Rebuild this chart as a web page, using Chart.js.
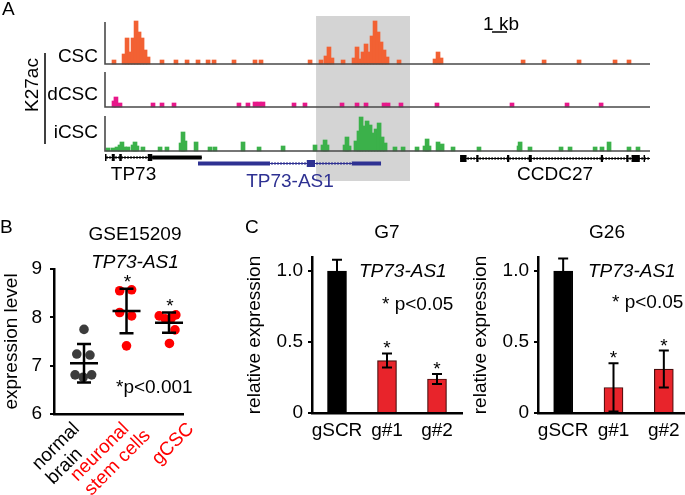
<!DOCTYPE html>
<html>
<head>
<meta charset="utf-8">
<script src="https://cdn.jsdelivr.net/npm/chart.js@4.4.1/dist/chart.umd.min.js"></script>
<style>
  html, body { margin: 0; padding: 0; background: #fff; overflow: hidden; }
  body { width: 685px; height: 495px; position: relative; }
  canvas { position: absolute; }
</style>
</head>
<body>
<canvas id="tracks" width="685" height="192" style="left:0px;top:0px"></canvas>
<canvas id="scatter" width="235" height="300" style="left:0px;top:195px"></canvas>
<canvas id="g7" width="230" height="300" style="left:235px;top:195px"></canvas>
<canvas id="g26" width="230" height="300" style="left:461px;top:195px"></canvas>
<script>
// ---- panel A: H3K27ac tracks, positions in kb, signal in arbitrary units ----
const cscSignal = [
  [0.6, 4], [1.27, 10], [1.47, 26], [1.67, 12], [1.87, 26], [2.07, 43], [2.27, 32], [2.47, 26], [2.67, 14], [2.87, 7],
  [3.8, 4], [4.73, 4], [5.47, 4], [6.2, 4], [6.87, 4], [7.27, 4], [8.6, 4], [10.0, 4], [10.4, 4],
  [13.67, 4], [14.4, 4], [14.73, 8], [14.93, 17], [15.13, 6], [15.87, 4],
  [16.6, 6], [16.8, 17], [17.0, 5], [17.2, 12], [17.4, 20], [17.6, 12], [17.8, 28], [18.0, 43], [18.2, 32], [18.4, 22], [18.6, 14], [18.8, 7],
  [19.6, 4], [22.0, 5], [22.2, 12], [22.4, 6], [27.87, 4], [29.27, 4], [31.6, 4], [34.0, 4], [34.93, 4]
];
const dcscSignal = [
  [0.6, 6], [0.73, 10], [1.0, 4], [3.2, 4], [3.8, 4], [4.6, 4], [8.93, 4], [9.53, 4], [10.0, 5], [10.27, 5], [10.53, 5],
  [12.6, 4], [13.33, 4], [15.8, 4], [16.8, 4], [17.4, 4], [18.6, 4], [18.87, 4], [19.73, 4], [22.13, 4],
  [27.13, 4], [30.8, 4], [33.07, 4]
];
const icscSignal = [
  [0.2, 3], [0.53, 3], [0.8, 4], [1.0, 6], [1.13, 9], [1.3, 4], [1.53, 4], [1.87, 6], [2.0, 9], [2.13, 5], [2.53, 4],
  [3.67, 4], [4.13, 4], [5.07, 8], [5.2, 19], [5.33, 10], [6.07, 9], [7.0, 4], [7.33, 4], [9.2, 9], [10.27, 4], [11.87, 5],
  [14.0, 6], [14.53, 6], [14.67, 11], [14.8, 6], [16.0, 6], [16.13, 14], [16.27, 5],
  [16.73, 10], [16.93, 20], [17.07, 34], [17.27, 25], [17.47, 30], [17.67, 26], [17.87, 18], [18.07, 22], [18.27, 28], [18.47, 14], [18.67, 8],
  [19.33, 4], [19.87, 4], [20.8, 4], [21.33, 5], [21.47, 12], [21.6, 5], [22.2, 9], [22.47, 7], [23.2, 4],
  [24.93, 4], [27.6, 5], [27.67, 9], [28.33, 4], [30.4, 4], [31.0, 4], [32.67, 4], [33.13, 4], [33.6, 9], [34.93, 4], [35.53, 4]
];
const trackNames = ['CSC', 'dCSC', 'iCSC'];
const highlightRegion = [14.07, 20.33];

const geneNames = ['TP73', 'TP73-AS1', 'CCDC27'];
const geneSpans = [[0, 6.45], [6.2, 18.4], [23.67, 36.33]];
const geneExons = [
  [[0, 0.08], [0.45, 0.65], [0.95, 1.12], [2.85, 3.15]],
  [[13.45, 14.0]],
  [[23.67, 24.1], [24.75, 24.9], [26.8, 26.95], [28.25, 28.45], [33.05, 33.2], [34.75, 34.9], [35.1, 35.65], [35.9, 36.0]]
];
const geneUtrs = [[[3.15, 6.45]], [[6.2, 11.0], [16.45, 18.4]], []];
const geneLabelAt = [1.9, 12.33, 30.0];

// ---- panel B: GSE15209 expression ----
const groupNames = [['normal', 'brain'], ['neuronal', 'stem cells'], ['gCSC']];
const normalBrain = [7.75, 7.24, 7.22, 6.81, 6.81, 6.76];
const stemCells = [8.55, 8.57, 8.10, 8.03, 7.41];
const gcscCells = [8.03, 7.97, 7.98, 8.05, 7.74, 7.46];
const normalJitter = [0, -0.17, 0.14, -0.21, 0.18, -0.02];
const stemJitter = [-0.16, 0.12, -0.16, 0.12, 0];
const gcscJitter = [-0.23, -0.09, 0.05, 0.16, 0.14, 0.01];
const groupMean = [7.05, 8.13, 7.89];
const groupSd = [0.40, 0.46, 0.21];
const exprTicks = [6, 7, 8, 9];

// ---- panel C: knockdown qPCR ----
const guides = ['gSCR', 'g#1', 'g#2'];
const g7Expr = [1.0, 0.37, 0.24];
const g7Err = [0.08, 0.05, 0.035];
const g26Expr = [1.0, 0.18, 0.31];
const g26Err = [0.09, 0.17, 0.13];
const starred = [false, true, true];
const relTicks = [0, 0.5, 1.0];

const FONT = "'Liberation Sans', Arial, sans-serif";
Chart.defaults.font.family = FONT;
Chart.defaults.font.size = 19;
Chart.defaults.color = '#000';
Chart.defaults.animation = false;
Chart.defaults.plugins.legend.display = false;
Chart.defaults.plugins.tooltip.enabled = false;

// layout of the track panel (y units of the hidden axis)
const trackColors = ['#f26133', '#e8178a', '#3bb14a'];
const trackBase = [87, 44, 0];
const trackTop = [129, 79, 35];
const geneRow = [-6, -12, -7];
const geneColors = ['#000', '#2e3192', '#000'];

const trackPlugin = {
    id: 'trackDecor',
    beforeDatasetsDraw(chart) {
        const { ctx, chartArea: a, scales: { x } } = chart;
        const x0 = x.getPixelForValue(highlightRegion[0]);
        const x1 = x.getPixelForValue(highlightRegion[1]);
        ctx.save();
        ctx.fillStyle = '#d4d4d4';
        ctx.fillRect(x0, a.top, x1 - x0, a.bottom - a.top);
        ctx.restore();
    },
    afterDatasetsDraw(chart) {
        const { ctx, scales: { x, y } } = chart;
        const left = x.getPixelForValue(x.min);
        const right = x.getPixelForValue(x.max);
        ctx.save();

        // track axes
        ctx.strokeStyle = '#4a4a4a';
        ctx.lineWidth = 1.6;
        trackBase.forEach((b, i) => {
            ctx.beginPath();
            ctx.moveTo(left, y.getPixelForValue(trackTop[i]));
            ctx.lineTo(left, y.getPixelForValue(b));
            ctx.lineTo(right, y.getPixelForValue(b));
            ctx.stroke();
        });

        // gene models
        geneNames.forEach((name, g) => {
            const gy = Math.round(y.getPixelForValue(geneRow[g])) + 0.5;
            const s = x.getPixelForValue(geneSpans[g][0]);
            const e = x.getPixelForValue(geneSpans[g][1]);
            ctx.strokeStyle = geneColors[g];
            ctx.fillStyle = geneColors[g];
            ctx.lineWidth = 1;
            ctx.beginPath();
            ctx.moveTo(s, gy);
            ctx.lineTo(e, gy);
            for (let p = s + 2; p < e; p += 3) {
                ctx.moveTo(p, gy - 1.5);
                ctx.lineTo(p, gy + 1.5);
            }
            ctx.stroke();
            geneUtrs[g].forEach(([a, b]) => {
                const pa = x.getPixelForValue(a), pb = x.getPixelForValue(b);
                ctx.fillRect(pa, gy - 2, pb - pa, 4);
            });
            geneExons[g].forEach(([a, b]) => {
                const pa = x.getPixelForValue(a), pb = x.getPixelForValue(b);
                ctx.fillRect(pa, gy - 3.5, Math.max(pb - pa, 1.5), 7);
            });
        });

        ctx.font = '19px ' + FONT;
        ctx.textAlign = 'center';
        ctx.textBaseline = 'alphabetic';
        ctx.fillStyle = '#000';
        ctx.fillText(geneNames[0], x.getPixelForValue(geneLabelAt[0]), 180);
        ctx.fillStyle = geneColors[1];
        ctx.fillText(geneNames[1], x.getPixelForValue(geneLabelAt[1]), 187);
        ctx.fillStyle = '#000';
        ctx.fillText(geneNames[2], x.getPixelForValue(geneLabelAt[2]), 180);

        // 1 kb scale bar
        ctx.textAlign = 'left';
        ctx.fillText('1', 483, 30);
        ctx.fillText('kb', 499, 30);
        ctx.lineWidth = 1.5;
        ctx.strokeStyle = '#000';
        ctx.beginPath();
        ctx.moveTo(x.getPixelForValue(25.8), 32);
        ctx.lineTo(x.getPixelForValue(26.8), 32);
        ctx.stroke();

        // track labels
        ctx.textAlign = 'right';
        trackNames.forEach((n, i) => {
            ctx.fillText(n, 98, [62, 100, 138][i]);
        });
        ctx.textAlign = 'left';
        ctx.fillText('A', 2, 15);
        ctx.beginPath();
        ctx.moveTo(45, 53);
        ctx.lineTo(45, 144);
        ctx.stroke();
        ctx.translate(33, 85);
        ctx.rotate(-Math.PI / 2);
        ctx.textAlign = 'center';
        ctx.textBaseline = 'middle';
        ctx.fillText('K27ac', 0, 0);
        ctx.restore();
    }
};

const signals = [cscSignal, dcscSignal, icscSignal];
new Chart(document.getElementById('tracks'), {
    type: 'bar',
    data: {
        datasets: signals.map((s, i) => ({
            label: trackNames[i],
            data: s.map(([pos, h]) => ({ x: pos, y: [trackBase[i], trackBase[i] + h] })),
            backgroundColor: trackColors[i],
            barThickness: 4,
            grouped: false
        }))
    },
    options: {
        responsive: false,
        layout: { padding: { left: 105, right: 35, top: 16, bottom: 11 } },
        scales: {
            x: { type: 'linear', min: 0, max: 36.33, offset: false, display: false },
            y: { min: -30, max: 135, display: false }
        }
    },
    plugins: [trackPlugin]
});

// ---- panel B ----
const groupColors = ['#3c3c3c', '#ff0000', '#ff0000'];
const labelColors = ['#000', '#ff0000', '#ff0000'];
const labelShift = [-7.5, -0.5, 22];

const scatterPlugin = {
    id: 'scatterDecor',
    afterDatasetsDraw(chart) {
        const { ctx, chartArea: a, scales: { x, y } } = chart;
        ctx.save();
        ctx.strokeStyle = '#000';
        ctx.lineWidth = 2.5;
        groupMean.forEach((m, i) => {
            const cx = x.getPixelForValue(i + 1);
            const top = y.getPixelForValue(m + groupSd[i]);
            const bot = y.getPixelForValue(m - groupSd[i]);
            const my = y.getPixelForValue(m);
            ctx.beginPath();
            ctx.moveTo(cx, top); ctx.lineTo(cx, bot);
            ctx.moveTo(cx - 7, top); ctx.lineTo(cx + 7, top);
            ctx.moveTo(cx - 7, bot); ctx.lineTo(cx + 7, bot);
            ctx.moveTo(cx - 14, my); ctx.lineTo(cx + 14, my);
            ctx.stroke();
            if (i > 0) {
                ctx.font = '19px ' + FONT;
                ctx.fillStyle = '#000';
                ctx.textAlign = 'center';
                ctx.fillText('*', cx + 1, top - 0.5);
            }
        });

        ctx.font = '19px ' + FONT;
        ctx.fillStyle = '#000';
        ctx.textAlign = 'left';
        ctx.fillText('*p<0.001', 116, 198);
        ctx.fillText('B', 0, 38);
        ctx.textAlign = 'center';
        ctx.fillText('GSE15209', 135, 45);
        ctx.font = 'italic 19px ' + FONT;
        ctx.fillText('TP73-AS1', 135, 73);

        // rotated category labels
        ctx.font = '19px ' + FONT;
        groupNames.forEach((lines, i) => {
            const w0 = ctx.measureText(lines[0]).width;
            ctx.save();
            ctx.translate(x.getPixelForValue(i + 1) + labelShift[i], a.bottom + 12);
            ctx.rotate(-Math.PI / 4);
            ctx.fillStyle = labelColors[i];
            ctx.textAlign = 'left';
            ctx.textBaseline = 'middle';
            lines.forEach((l, j) => ctx.fillText(l, -w0, j * 20));
            ctx.restore();
        });
        ctx.restore();
    }
};

const groupValues = [normalBrain, stemCells, gcscCells];
const groupJitter = [normalJitter, stemJitter, gcscJitter];
new Chart(document.getElementById('scatter'), {
    type: 'scatter',
    data: {
        datasets: groupValues.map((vals, g) => ({
            data: vals.map((v, k) => ({ x: g + 1 + groupJitter[g][k], y: v })),
            pointRadius: 4.8,
            pointBackgroundColor: groupColors[g],
            pointBorderWidth: 0
        }))
    },
    options: {
        responsive: false,
        layout: { padding: { left: 0, right: 52, top: 74, bottom: 0 } },
        scales: {
            x: {
                type: 'linear', min: 0.294, max: 3.329,
                grid: { display: false }, ticks: { display: false },
                border: { color: '#000', width: 2.5 },
                afterFit: s => { s.height = 81; }
            },
            y: {
                min: 6, max: 9,
                afterBuildTicks: s => { s.ticks = exprTicks.map(v => ({ value: v })); },
                ticks: { padding: 8 },
                grid: { drawOnChartArea: false, tickLength: 4, color: '#000', lineWidth: 2 },
                border: { color: '#000', width: 2.5 },
                title: { display: true, text: 'expression level', padding: { top: 0, bottom: 0 } },
                afterFit: s => { s.width = 54; }
            }
        }
    },
    plugins: [scatterPlugin]
});

// ---- panel C ----
function knockdownChart(id, values, errors, title, txt) {
    const decor = {
        id: 'kdDecor',
        afterDatasetsDraw(chart) {
            const { ctx, scales: { x, y } } = chart;
            ctx.save();
            ctx.strokeStyle = '#000';
            ctx.lineWidth = 2;
            ctx.font = '19px ' + FONT;
            ctx.fillStyle = '#000';
            ctx.textAlign = 'center';
            values.forEach((v, i) => {
                const cx = x.getPixelForValue(i);
                const top = y.getPixelForValue(v + errors[i]);
                const bot = y.getPixelForValue(v - errors[i]);
                ctx.beginPath();
                ctx.moveTo(cx, top); ctx.lineTo(cx, bot);
                ctx.moveTo(cx - 5, top); ctx.lineTo(cx + 5, top);
                ctx.moveTo(cx - 5, bot); ctx.lineTo(cx + 5, bot);
                ctx.stroke();
                if (starred[i]) ctx.fillText('*', cx, top + 1);
            });
            ctx.fillText(title, txt.titleX, 43);
            ctx.textAlign = 'left';
            ctx.fillText('* p<0.05', txt.pX, txt.pY);
            if (txt.panel) ctx.fillText(txt.panel, 10, 38);
            ctx.font = 'italic 19px ' + FONT;
            ctx.fillText('TP73-AS1', txt.geneX, 82);
            ctx.restore();
        }
    };
    return new Chart(document.getElementById(id), {
        type: 'bar',
        data: {
            labels: guides,
            datasets: [{
                data: values,
                backgroundColor: ['#000', '#e8242b', '#e8242b'],
                borderColor: ['#000', '#4a0d0d', '#4a0d0d'],
                borderWidth: 1.2,
                barThickness: 19
            }]
        },
        options: {
            responsive: false,
            layout: { padding: { left: 0, right: txt.padRight, top: 62, bottom: 0 } },
            scales: {
                x: {
                    grid: { display: false, drawTicks: false },
                    border: { color: '#000', width: 2.5 },
                    ticks: { padding: 6, autoSkip: false, maxRotation: 0, minRotation: 0 },
                    afterFit: s => { s.height = 82; }
                },
                y: {
                    min: 0, max: 1.1,
                    afterBuildTicks: s => { s.ticks = relTicks.map(v => ({ value: v })); },
                    ticks: { padding: 5, callback: v => v === 0 ? '0' : v.toFixed(1) },
                    grid: { drawOnChartArea: false, tickLength: 4, color: '#000', lineWidth: 2 },
                    border: { color: '#000', width: 2.5 },
                    title: { display: true, text: 'relative expression', padding: { top: 8, bottom: 0 } },
                    afterFit: s => { s.width = 77; }
                }
            }
        },
        plugins: [decor]
    });
}

knockdownChart('g7', g7Expr, g7Err, 'G7', { titleX: 152, geneX: 124, pX: 147, pY: 115, padRight: 3, panel: 'C' });
knockdownChart('g26', g26Expr, g26Err, 'G26', { titleX: 146, geneX: 127, pX: 151, pY: 113, padRight: 2 });
</script>
</body>
</html>
